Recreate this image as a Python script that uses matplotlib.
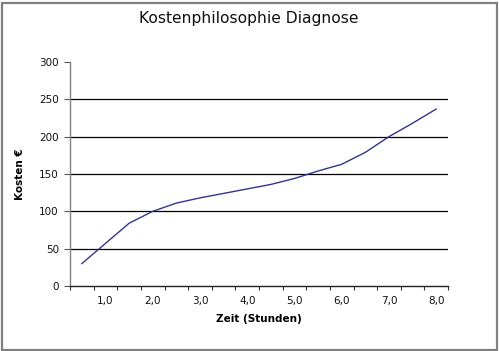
import matplotlib
matplotlib.use("Agg")
import matplotlib.pyplot as plt
from matplotlib.patches import Rectangle
import numpy as np

categories = ["0,5", "1,0", "1,5", "2,0", "2,5", "3,0", "3,5", "4,0",
              "4,5", "5,0", "5,5", "6,0", "6,5", "7,0", "7,5", "8,0"]
costs = [30, 57, 84, 100, 111, 118, 124, 130, 136, 144, 154, 163, 179, 200, 218, 237]
y_ticks = [0, 50, 100, 150, 200, 250, 300]

plt.rcParams['font.family'] = ['DejaVu Sans']

fig = plt.figure(figsize=(4.99, 3.51), dpi=100)
ax = fig.add_axes([70/499, 1-286/351, 378/499, 224/351])

x = np.arange(len(categories))
for yv in y_ticks[1:-1]:
    ax.axhline(yv, color='black', lw=0.9, zorder=1)
ax.plot(x, costs, color='#34348a', lw=1.0, zorder=3)

ax.set_xlim(-0.5, len(categories) - 0.5)
ax.set_ylim(0, 300)
ax.set_yticks(y_ticks)
ax.set_yticklabels([str(v) for v in y_ticks], fontsize=7.5, color='#111111')

ax.set_xticks(np.arange(-0.5, len(categories), 1.0))
ax.set_xticklabels([])
ax.set_xticks(x[1::2], minor=True)
ax.set_xticklabels(categories[1::2], minor=True, fontsize=7.5, color='#111111')
ax.tick_params(axis='x', which='major', length=3, width=0.8, color='#333333', direction='out')
ax.tick_params(axis='x', which='minor', length=0, pad=7)
ax.tick_params(axis='y', length=4, width=0.8, color='#555555', pad=4)

for s in ['top', 'right']:
    ax.spines[s].set_visible(False)
ax.spines['left'].set_color('#808080')
ax.spines['left'].set_linewidth(1.0)
ax.spines['bottom'].set_color('#222222')
ax.spines['bottom'].set_linewidth(1.0)

ax.set_xlabel("Zeit (Stunden)", fontsize=7.5, fontweight='bold', labelpad=6)
ax.set_ylabel("Kosten €", fontsize=7.5, fontweight='bold', labelpad=10)

fig.text(249/499, 1-19/351, "Kostenphilosophie Diagnose", ha='center', va='center',
         fontsize=11.2, color='#111111')

fig.patches.append(Rectangle((1.5/499, 1.5/351), 1-4/499, 1-4/351, transform=fig.transFigure,
                             fill=False, edgecolor='#808080', lw=1.6))

fig.savefig("out.png", dpi=100)
